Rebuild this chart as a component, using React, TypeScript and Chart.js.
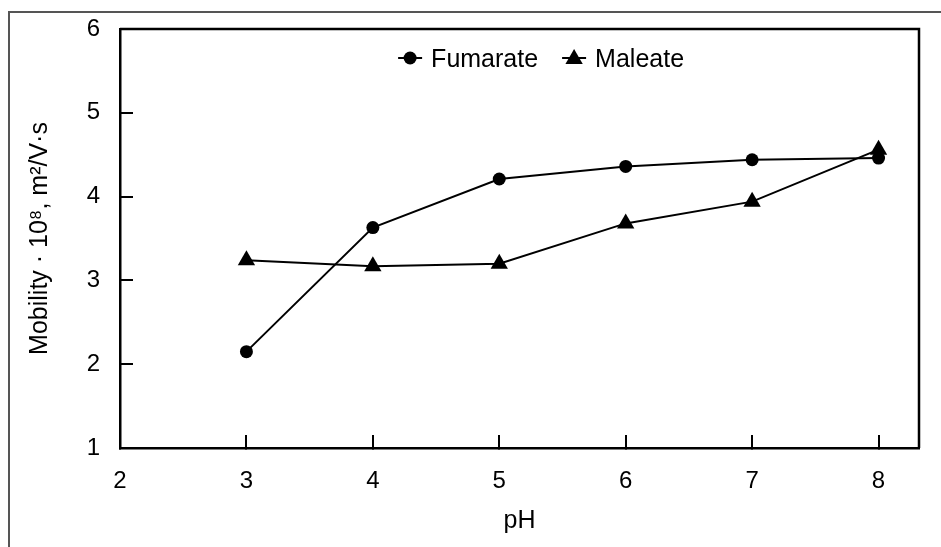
import React, { useEffect, useRef } from 'react';
import { Chart, registerables } from 'chart.js';

Chart.register(...registerables);

const phValues = [3, 4, 5, 6, 7, 8];
const fumarate = [2.15, 3.63, 4.21, 4.36, 4.44, 4.46];
const maleate = [3.24, 3.17, 3.2, 3.68, 3.94, 4.56];
const xTicks = [2, 3, 4, 5, 6, 7, 8];
const yTicks = [1, 2, 3, 4, 5, 6];
const seriesNames = ['Fumarate', 'Maleate'];
const xTitle = 'pH';
const yTitle = 'Mobility · 10⁸, m²/V·s';

const FONT = '"Liberation Sans", Arial, sans-serif';
const W = 941;
const H = 547;

function drawMarker(ctx: CanvasRenderingContext2D, style: string, x: number, y: number, r: number) {
  ctx.beginPath();
  if (style === 'triangle') {
    let rad = 0;
    ctx.moveTo(x + Math.sin(rad) * r, y - Math.cos(rad) * r);
    rad += (2 * Math.PI) / 3;
    ctx.lineTo(x + Math.sin(rad) * r, y - Math.cos(rad) * r);
    rad += (2 * Math.PI) / 3;
    ctx.lineTo(x + Math.sin(rad) * r, y - Math.cos(rad) * r);
    ctx.closePath();
  } else {
    ctx.arc(x, y, r, 0, Math.PI * 2);
  }
  ctx.fill();
}

const framePlugin = {
  id: 'frame',
  afterDraw(chart: any) {
    const { ctx, chartArea } = chart;
    ctx.save();
    ctx.strokeStyle = '#000';
    ctx.lineWidth = 2.5;
    ctx.beginPath();
    ctx.moveTo(chartArea.left, chartArea.top);
    ctx.lineTo(chartArea.right, chartArea.top);
    ctx.lineTo(chartArea.right, chartArea.bottom);
    ctx.stroke();

    // legend
    const items = chart.data.datasets.map((d: any) => ({
      label: d.label,
      style: d.pointStyle,
    }));
    ctx.font = `25px ${FONT}`;
    const symW = 24;
    const gap = 9;
    const itemGap = 24;
    let total = 0;
    items.forEach((it: any, i: number) => {
      total += symW + gap + ctx.measureText(it.label).width + (i < items.length - 1 ? itemGap : 0);
    });
    const cx = chartArea.left + (chartArea.right - chartArea.left) * 0.527;
    let x = cx - total / 2;
    const yMid = chartArea.top + 29;
    const yBase = chartArea.top + 38;
    ctx.fillStyle = '#000';
    items.forEach((it: any) => {
      ctx.lineWidth = 2;
      ctx.beginPath();
      ctx.moveTo(x, yMid);
      ctx.lineTo(x + symW, yMid);
      ctx.stroke();
      drawMarker(ctx, it.style, x + symW / 2, yMid + (it.style === 'triangle' ? 1 : 0), it.style === 'triangle' ? 10 : 6.5);
      x += symW + gap;
      ctx.textBaseline = 'alphabetic';
      ctx.textAlign = 'left';
      ctx.fillText(it.label, x, yBase);
      x += ctx.measureText(it.label).width + itemGap;
    });
    ctx.restore();
  },
};

export default function App() {
  const ref = useRef<HTMLCanvasElement | null>(null);

  useEffect(() => {
    if (!ref.current) return;
    Chart.defaults.font.family = FONT;
    const chart = new Chart(ref.current, {
      type: 'line',
      data: {
        datasets: [
          {
            label: seriesNames[0],
            data: phValues.map((p, i) => ({ x: p, y: fumarate[i] })),
            borderColor: '#000',
            backgroundColor: '#000',
            borderWidth: 2,
            pointStyle: 'circle',
            pointRadius: 6.5,
            pointBorderWidth: 0,
            tension: 0,
          },
          {
            label: seriesNames[1],
            data: phValues.map((p, i) => ({ x: p, y: maleate[i] })),
            borderColor: '#000',
            backgroundColor: '#000',
            borderWidth: 2,
            pointStyle: 'triangle',
            pointRadius: 10,
            pointBorderWidth: 0,
            tension: 0,
          },
        ],
      },
      options: {
        animation: false,
        responsive: false,
        devicePixelRatio: 1,
        layout: { padding: { left: 0, top: 29, right: 22, bottom: 0 } },
        plugins: { legend: { display: false }, tooltip: { enabled: false } },
        scales: {
          x: {
            type: 'linear',
            min: 2,
            max: 8.32,
            afterBuildTicks: (s: any) => {
              s.ticks = xTicks.map((v) => ({ value: v }));
            },
            afterFit: (s: any) => {
              s.height = 99;
              s.paddingLeft = 0;
              s.paddingRight = 0;
            },
            ticks: {
              font: { size: 24, family: FONT },
              color: '#000',
              padding: 32,
              maxRotation: 0,
              autoSkip: false,
            },
            grid: {
              drawOnChartArea: false,
              drawTicks: true,
              tickLength: -13,
              lineWidth: 2,
              color: '#000',
            },
            border: { display: true, color: '#000', width: 2.5 },
            title: {
              display: true,
              text: xTitle,
              color: '#000',
              font: { size: 25, family: FONT },
              padding: { top: 0, bottom: 11 },
            },
          },
          y: {
            type: 'linear',
            min: 1,
            max: 6,
            afterBuildTicks: (s: any) => {
              s.ticks = yTicks.map((v) => ({ value: v }));
            },
            afterFit: (s: any) => {
              s.width = 120;
              s.paddingTop = 0;
              s.paddingBottom = 0;
            },
            ticks: {
              font: { size: 24, family: FONT },
              color: '#000',
              padding: 33,
              autoSkip: false,
            },
            grid: {
              drawOnChartArea: false,
              drawTicks: true,
              tickLength: -13,
              lineWidth: 2,
              color: '#000',
            },
            border: { display: true, color: '#000', width: 2.5 },
            title: {
              display: true,
              text: yTitle,
              color: '#000',
              font: { size: 25, family: FONT },
              padding: { top: 25, bottom: 0 },
            },
          },
        },
      },
      plugins: [framePlugin],
    });
    return () => chart.destroy();
  }, []);

  return (
    <div
      style={{
        position: 'fixed',
        left: 0,
        top: 0,
        width: W,
        height: H,
        overflow: 'hidden',
        background: '#fff',
      }}
    >
      <div
        style={{
          position: 'absolute',
          left: 8,
          top: 11,
          width: 2000,
          height: 2000,
          borderLeft: '2px solid #555',
          borderTop: '2px solid #555',
        }}
      />
      <canvas
        ref={ref}
        width={W}
        height={H}
        style={{ position: 'absolute', left: 0, top: 0, width: W, height: H }}
      />
    </div>
  );
}
